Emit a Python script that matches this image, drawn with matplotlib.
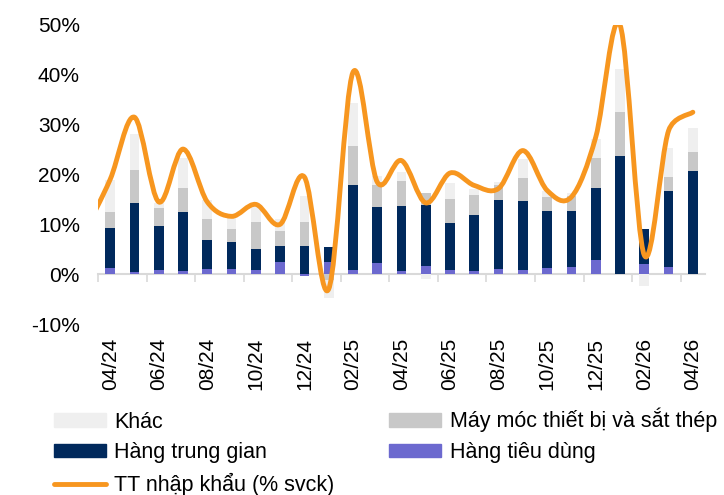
import numpy as np
import matplotlib
matplotlib.use('Agg')
from matplotlib import pyplot as plt
from matplotlib.path import Path
from matplotlib.patches import PathPatch, Patch
from matplotlib.lines import Line2D

plt.rcParams['font.family'] = ['Liberation Sans', 'DejaVu Sans']
plt.rcParams['font.size'] = 15

# months 04/24 .. 04/26 (bars), the line also has 03/24 (clipped at left edge)
months = ['04/24', '05/24', '06/24', '07/24', '08/24', '09/24', '10/24', '11/24',
          '12/24', '01/25', '02/25', '03/25', '04/25', '05/25', '06/25', '07/25',
          '08/25', '09/25', '10/25', '11/25', '12/25', '01/26', '02/26', '03/26', '04/26']

hang_tieu_dung = [1.3, 0.5, 0.8, 0.6, 1.1, 1.1, 0.8, 2.4, -0.3, 2.4, 0.8, 2.3, 0.7,
                  1.6, 0.8, 0.6, 1.1, 0.9, 1.3, 1.5, 2.8, 0.1, 2.1, 1.4, 0.1]
hang_trung_gian = [8.0, 13.8, 8.9, 11.8, 5.8, 5.3, 4.3, 3.2, 5.7, 3.1, 17.1, 11.2, 13.0,
                   12.2, 9.5, 11.2, 13.7, 13.7, 11.4, 11.1, 14.5, 23.6, 6.9, 15.3, 20.7]
may_moc = [3.2, 6.7, 3.6, 4.9, 4.2, 2.7, 5.4, 3.1, 4.8, -1.2, 7.9, 4.4, 5.0,
           2.5, 4.7, 4.1, 3.0, 4.7, 2.7, 3.0, 6.0, 8.9, 0.0, 2.8, 3.8]
khac = [6.3, 7.1, 0.9, 6.0, 3.7, 2.2, 3.0, 2.4, 5.2, -3.6, 8.5, 1.8, 1.8,
        -0.9, 3.3, 1.2, 0.6, 3.8, 1.2, 0.6, 3.8, 8.5, -2.3, 5.8, 4.7]

# import growth, first value is 03/24
tt_nhap_khau = [9.0, 19.0, 31.5, 14.5, 25.1, 14.5, 11.6, 14.0, 10.0, 19.5, -3.0, 40.5,
                18.5, 22.8, 14.3, 20.3, 17.8, 17.2, 24.8, 16.8, 15.5, 27.5, 50.0,
                3.8, 28.8, 32.5]

c_khac = '#EFEFEF'
c_may = '#C8C8C8'
c_tg = '#00295C'
c_td = '#6C69CF'
c_line = '#F7961F'

fig = plt.figure(figsize=(7.24, 4.95), dpi=100)
ax = fig.add_axes([98 / 724, 1 - 324 / 495, (705 - 98) / 724, (324 - 25) / 495])

x = np.arange(len(months))
pos = np.zeros(len(months))
neg = np.zeros(len(months))
for vals, color in [(hang_tieu_dung, c_td), (hang_trung_gian, c_tg),
                    (may_moc, c_may), (khac, c_khac)]:
    v = np.array(vals)
    bottom = np.where(v >= 0, pos, neg)
    ax.bar(x, v, 0.4, bottom=bottom, color=color, zorder=2)
    pos += np.where(v >= 0, v, 0)
    neg += np.where(v < 0, v, 0)

ax.set_xlim(-0.5, len(months) - 0.5)
ax.set_ylim(-10, 50)

# smoothed line, Excel style: Catmull-Rom bezier, control length capped
# at half of the segment (distances measured in pixels)
lx = np.arange(-1, len(months))
ly = np.array(tt_nhap_khau)
pts = np.column_stack([lx, ly]).astype(float)
px = ax.transData.transform(pts)
verts = [tuple(pts[0])]
codes = [Path.MOVETO]
n = len(pts)
for i in range(n - 1):
    i0 = max(i - 1, 0)
    i3 = min(i + 2, n - 1)
    d12 = np.hypot(*(px[i + 1] - px[i]))
    d02 = np.hypot(*(px[i + 1] - px[i0]))
    d13 = np.hypot(*(px[i3] - px[i]))
    f0 = 1 / 6
    if d02 / 6 > d12 / 2:
        f0 = d12 / (2 * d02)
    f1 = 1 / 6
    if d13 / 6 > d12 / 2:
        f1 = d12 / (2 * d13)
    c1 = pts[i] + f0 * (pts[i + 1] - pts[i0])
    c2 = pts[i + 1] - f1 * (pts[i3] - pts[i])
    verts += [tuple(c1), tuple(c2), tuple(pts[i + 1])]
    codes += [Path.CURVE4] * 3
ax.add_patch(PathPatch(Path(verts, codes), fill=False, edgecolor=c_line, lw=3.5,
                       capstyle='round', joinstyle='round', zorder=4))

ax.set_yticks(np.arange(-10, 51, 10))
ax.set_yticklabels([f'{v}%' for v in range(-10, 51, 10)])
ax.set_xticks(x[::2])
ax.set_xticklabels(months[::2], rotation=90)
ax.tick_params(axis='both', length=0)
ax.tick_params(axis='y', pad=13)
ax.tick_params(axis='x', pad=10)
for s in ax.spines.values():
    s.set_visible(False)

# category axis at zero with tick marks between category pairs
sec = ax.secondary_xaxis(10 / 60)
sec.set_xticks(np.arange(-0.5, len(months) - 1, 2))
sec.set_xticklabels([])
sec.tick_params(axis='x', length=6, width=1.2, color='#D9D9D9', direction='out')
sec.spines['bottom'].set_color('#D9D9D9')
sec.spines['bottom'].set_linewidth(1.5)

handles = [Patch(color=c_khac), Patch(color=c_tg),
           Line2D([0], [0], color=c_line, lw=3.5, solid_capstyle='round'),
           Patch(color=c_may), Patch(color=c_td)]
labels = ['Khác', 'Hàng trung gian', 'TT nhập khẩu (% svck)',
          'Máy móc thiết bị và sắt thép', 'Hàng tiêu dùng']
fig.legend(handles, labels, ncol=2, loc='upper left',
           bbox_to_anchor=(54 / 724, 1 - 408 / 495), frameon=False,
           fontsize=15.5, handlelength=2.4, handleheight=0.6, handletextpad=0.4,
           columnspacing=2.55, labelspacing=0.45, borderpad=0, borderaxespad=0)

fig.savefig('out.png', dpi=100)
